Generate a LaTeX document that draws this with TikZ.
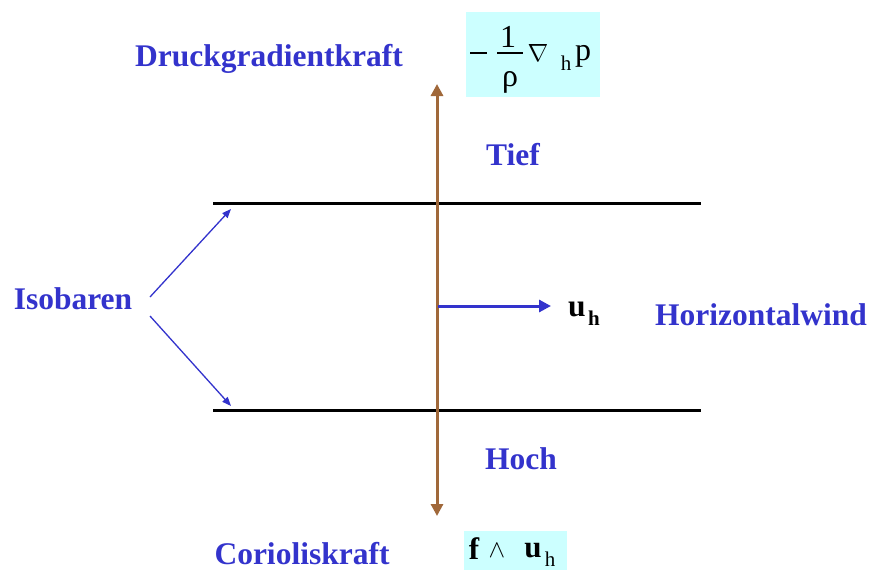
\documentclass[tikz,border=0pt]{standalone}
\usepackage{fontspec}
\setmainfont{Liberation Serif}
\usetikzlibrary{arrows.meta}
\definecolor{lblue}{HTML}{3333CC}
\definecolor{brownarrow}{HTML}{A0683A}
\definecolor{lcyan}{HTML}{CCFFFF}
\tikzset{
  lbl/.style={text=lblue, font=\rmfamily\fontsize{31.5}{36}\selectfont\bfseries, inner sep=0pt},
  frm/.style={text=black, font=\rmfamily\fontsize{32}{36}\selectfont, inner sep=0pt},
  sub/.style={text=black, font=\rmfamily\fontsize{21}{24}\selectfont, inner sep=0pt},
  isobar/.style={line width=3pt, black},
  thinarrow/.style={lblue, line width=1.3pt, -{Triangle[length=9pt,width=7pt]}},
  windarrow/.style={lblue, line width=3pt, -{Triangle[length=12pt,width=12pt]}},
  forcearrow/.style={brownarrow, line width=3pt, {Triangle[length=12pt,width=12pt]}-{Triangle[length=12pt,width=12pt]}},
  cybox/.style={fill=lcyan, draw=none}
}
\begin{document}
\begin{tikzpicture}[x=1pt,y=-1pt]
\useasboundingbox (0,0) rectangle (873,570);
% boxes
\fill[cybox] (466,12) rectangle (600,97);
\fill[cybox] (464,531) rectangle (567,570);
% isobars
\coordinate (iso1a) at (213,203);
\coordinate (iso1b) at (701,203);
\coordinate (iso2a) at (213,410);
\coordinate (iso2b) at (701,410);
\draw[isobar] (iso1a) -- (iso1b);
\draw[isobar] (iso2a) -- (iso2b);
% labels
\node[lbl] (dgk) at (269,59) {Druckgradientkraft};
\node[lbl] (tief) at (513,155) {Tief};
\node[lbl] (hoch) at (521,459) {Hoch};
\node[lbl] (iso) at (73,299) {Isobaren};
\node[lbl] (hw) at (761,315) {Horizontalwind};
\node[lbl] (cor) at (302,554) {Corioliskraft};
% force arrow
\coordinate (ftop) at (437,84);
\coordinate (fbot) at (437,516);
\draw[forcearrow] (fbot) -- (ftop);
% wind arrow
\coordinate (wstart) at (438,306);
\coordinate (wend) at (551,306);
\draw[windarrow] (wstart) -- (wend);
\node[text=black, font=\rmfamily\fontsize{31.5}{36}\selectfont\bfseries, inner sep=0pt] (u) at (577,309) {u};
\node[text=black, font=\rmfamily\fontsize{21}{24}\selectfont\bfseries, inner sep=0pt] (uh) at (594,318) {h};
% isobar arrows
\coordinate (isoA) at (150,297);
\coordinate (isoB) at (150,316);
\coordinate (isoT) at (231,209);
\coordinate (isoD) at (231,406);
\draw[thinarrow] (isoA) -- (isoT);
\draw[thinarrow] (isoB) -- (isoD);
% gradient formula
\draw[line width=1.6pt] (470,53) -- (487,53);
\node[frm] (one) at (508,37) {1};
\node[frm] (rho) at (510,82) {ρ};
\draw[line width=1.2pt] (497,53) -- (523,53);
\node[text=black, font=\fontsize{30}{32}\selectfont, inner sep=0pt] (nabla) at (538,53) {$\nabla$};
\node[sub] (h1) at (566,63) {h};
\node[frm] (p) at (583,56) {p};
% coriolis formula
\node[text=black, font=\rmfamily\fontsize{31}{36}\selectfont\bfseries, inner sep=0pt] (f) at (474,549) {f};
\node[text=black, font=\fontsize{23}{26}\selectfont, inner sep=0pt] (wedge) at (497,551) {$\wedge$};
\node[text=black, font=\rmfamily\fontsize{31}{36}\selectfont\bfseries, inner sep=0pt] (u2) at (533,551) {u};
\node[sub] (h2) at (550,559) {h};
\end{tikzpicture}
\end{document}
